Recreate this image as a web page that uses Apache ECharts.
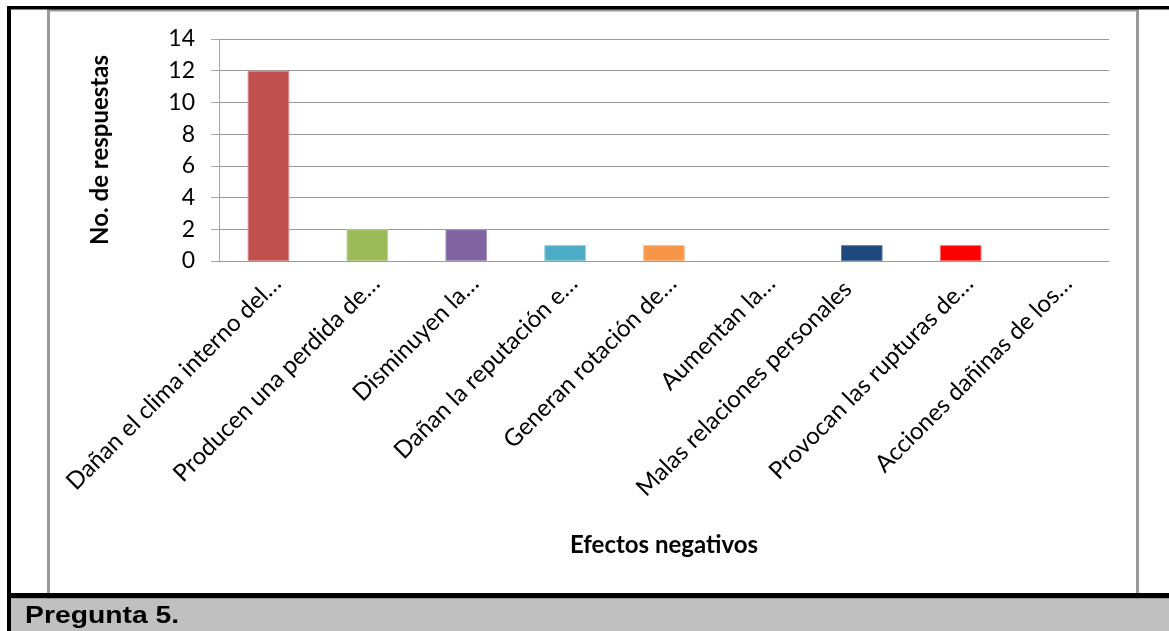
<!DOCTYPE html>
<html>
<head>
<meta charset="utf-8">
<title>Efectos negativos</title>
<script src="https://cdn.jsdelivr.net/npm/echarts@6/dist/echarts.min.js"></script>
<style>
  html, body { margin: 0; padding: 0; background: #ffffff; }
  #chart { width: 1169px; height: 631px; }
</style>
</head>
<body>
<div id="chart"></div>
<script>
// Categories (effects) and number of responses for each
const categories = [
  'Dañan el clima interno del…',
  'Producen una perdida de…',
  'Disminuyen la…',
  'Dañan la reputación e…',
  'Generan rotación de…',
  'Aumentan la…',
  'Malas relaciones personales',
  'Provocan las rupturas de…',
  'Acciones dañinas de los…'
];
const responses = [12, 2, 2, 1, 1, 0, 1, 1, 0];
const barColors = ['#C0504D', '#9BBB59', '#8064A2', '#4BACC6', '#F79646', '#4F81BD', '#1F497D', '#FF0000', '#FFC000'];
const barEdges  = ['#D98B89', '#BCD38F', '#A895C2', '#8DCBDC', '#F9BB8A', '#8EAADB', '#5A7BA6', '#FF6666', '#FFD966'];
const yTicks = [0, 2, 4, 6, 8, 10, 12, 14];

const yAxisTitle = 'No. de respuestas';
const xAxisTitle = 'Efectos negativos';
const caption = 'Pregunta 5.';

const font = 'Lato';

const chart = echarts.init(document.getElementById('chart'), null, { renderer: 'canvas' });

// the one untruncated label sits a little further down its diagonal
const categoryData = categories.map(c => (
  c.endsWith('…') ? c : { value: c, textStyle: { padding: [0, 20, 0, 0] } }
));

chart.setOption({
  backgroundColor: '#ffffff',
  animation: false,
  grid: { left: 219, top: 39, right: 60, bottom: 370, containLabel: false },
  xAxis: {
    type: 'category',
    data: categoryData,
    name: xAxisTitle,
    nameLocation: 'middle',
    nameGap: 272,
    nameTextStyle: { fontFamily: font, fontWeight: 'bold', fontSize: 24, color: '#000' },
    axisLine: { show: true, lineStyle: { color: '#999999', width: 1 } },
    axisTick: { show: false },
    axisLabel: {
      interval: 0,
      rotate: 45,
      align: 'right',
      verticalAlign: 'top',
      margin: 10,
      fontFamily: font,
      fontSize: 24,
      color: '#000'
    }
  },
  yAxis: {
    type: 'value',
    min: yTicks[0],
    max: yTicks[yTicks.length - 1],
    interval: 2,
    name: yAxisTitle,
    nameLocation: 'middle',
    nameGap: 107,
    nameRotate: 90,
    nameTextStyle: { fontFamily: font, fontWeight: 'bold', fontSize: 24, color: '#000' },
    axisLine: { show: true, lineStyle: { color: '#a6a6a6', width: 1 } },
    axisTick: { show: true, inside: false, length: 8, lineStyle: { color: '#a6a6a6' } },
    axisLabel: { margin: 24, fontFamily: font, fontSize: 23, color: '#000' },
    splitLine: { show: true, lineStyle: { color: '#999999', width: 1 } }
  },
  series: [{
    type: 'bar',
    barCategoryGap: '58%',
    data: responses.map((v, i) => ({
      value: v,
      itemStyle: {
        color: barColors[i],
        borderColor: barEdges[i],
        borderWidth: v > 0 ? 1 : 0
      }
    }))
  }],
  graphic: [
    // grey inner frame of the chart area
    { type: 'rect', shape: { x: 48.5, y: 10, width: 1089, height: 590 },
      style: { fill: 'none', stroke: '#999999', lineWidth: 3 }, z: 100 },
    // black document frame
    { type: 'rect', shape: { x: 7, y: 6, width: 1162, height: 3.5 }, style: { fill: '#000' }, z: 101 },
    { type: 'rect', shape: { x: 7, y: 6, width: 4, height: 625 }, style: { fill: '#000' }, z: 101 },
    { type: 'rect', shape: { x: 7, y: 593, width: 1162, height: 5.5 }, style: { fill: '#000' }, z: 101 },
    // caption band
    { type: 'rect', shape: { x: 11, y: 598.5, width: 1158, height: 33 }, style: { fill: '#C0C0C0' }, z: 101 },
    { type: 'text', x: 25, y: 616, scaleX: 1.18, z: 102,
      style: { x: 0, y: 0, text: caption, fill: '#000',
        font: 'bold 24px "Liberation Sans", Arial, sans-serif',
        textAlign: 'left', textVerticalAlign: 'middle' } }
  ]
});
</script>
</body>
</html>
